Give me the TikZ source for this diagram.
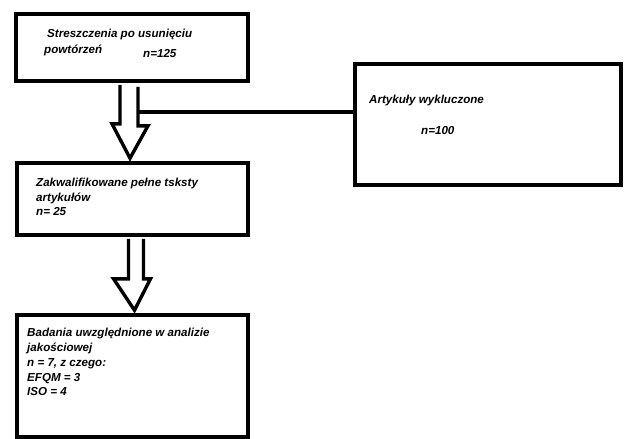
\documentclass[tikz,border=0pt]{standalone}
\usepackage{fontspec}
\setmainfont{Liberation Sans}
\usetikzlibrary{calc}

\begin{document}
\begin{tikzpicture}[x=1pt,y=-1pt]

\tikzset{
    box/.style={draw,line width=3.6pt,inner sep=0pt},
    txt/.style={anchor=north west,inner sep=0pt,font=\fontsize{11.6}{14.5}\selectfont\bfseries\itshape,align=left},
    hollow/.style={draw,line width=3.4pt,line join=miter,fill=white}}

\useasboundingbox (0,0) rectangle (624,439);

\node[box, minimum width=232, minimum height=67] (abs) at (132,47.5) {};
\node[box, minimum width=231, minimum height=72] (full) at (132.5,199) {};
\node[box, minimum width=231, minimum height=122] (incl) at (132.5,376) {};
\node[box, minimum width=266, minimum height=121] (excl) at (488,124.5) {};

\node[txt] (abst) at (47,29) {Streszczenia po usunięciu};
\node[txt] (abst2) at (44,45) {powtórzeń};
\node[txt] (absn) at (143,49) {n=125};

\node[txt] (exclt) at (369,95) {Artykuły wykluczone};
\node[txt] (excln) at (421,126) {n=100};

\node[txt] (fullt) at (36,178) {Zakwalifikowane pełne tsksty\\artykułów\\n= 25};

\node[txt, font=\fontsize{11.6}{14.8}\selectfont\bfseries\itshape] (inclt) at (27,328)
    {Badania uwzględnione w analizie\\jakościowej\\n = 7, z czego:\\EFQM = 3\\ISO = 4};

% hollow arrows
\draw[hollow] ($(abs.south)+(-12,2)$) -- ++(0,39) -- ++(-8,0) -- ($(full.north)+(-2.5,-3)$)
    -- ($(abs.south)+(16,43)$) -- ++(-10,0) -- ++(0,-39);
\draw[hollow] ($(full.south)+(-4,2)$) -- ++(0,40) -- ++(-15,0) -- ($(incl.north)+(2,-3)$)
    -- ($(full.south)+(18,42)$) -- ++(-7,0) -- ++(0,-40);

\coordinate (branch) at ($(abs.south)+(5,29)$);
\draw[line width=3.4pt] (branch) -- (branch -| excl.west);

\end{tikzpicture}
\end{document}
